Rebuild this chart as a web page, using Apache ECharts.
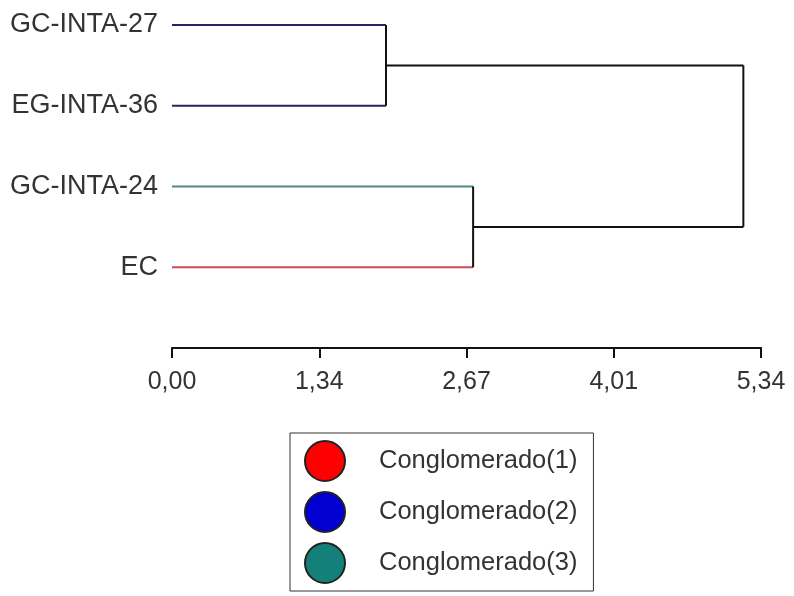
<!DOCTYPE html>
<html>
<head>
<meta charset="utf-8">
<script src="https://cdn.jsdelivr.net/npm/echarts@6/dist/echarts.min.js"></script>
<style>
  html, body { margin: 0; padding: 0; background: #fff; }
  #chart { width: 794px; height: 596px; }
</style>
</head>
<body>
<div id="chart"></div>
<script>
// hojas del dendrograma (de arriba hacia abajo)
const leafNames = ['GC-INTA-27', 'EG-INTA-36', 'GC-INTA-24', 'EC']
const leafCluster = [2, 2, 3, 1]
// uniones: pares de nodos (0-3 hojas, 4.. nodos nuevos) y su distancia
const mergePairs = [[0, 1], [2, 3], [4, 5]]
const mergeHeights = [1.94, 2.73, 5.18]
// eje de distancias
const tickValues = [0, 1.335, 2.67, 4.005, 5.34]
const tickLabels = ['0,00', '1,34', '2,67', '4,01', '5,34']
// conglomerados
const clusterNames = ['Conglomerado(1)', 'Conglomerado(2)', 'Conglomerado(3)']
const clusterColors = ['#ff0000', '#0000d0', '#14807a']
const branchColors = { 1: '#cc4a58', 2: '#26265e', 3: '#4f8a8a' }

const font = 'Liberation Sans, Arial, sans-serif'

// posiciones de los nodos
const nodes = leafNames.map((n, i) => ({ x: 0, y: i, leaf: i }))
const segments = []
mergePairs.forEach((pair, k) => {
  const h = mergeHeights[k]
  const a = nodes[pair[0]]
  const b = nodes[pair[1]]
  ;[a, b].forEach(c => {
    const color = c.leaf !== undefined ? branchColors[leafCluster[c.leaf]] : '#111'
    segments.push({ pts: [[c.x, c.y], [h, c.y]], color })
  })
  segments.push({ pts: [[h, a.y], [h, b.y]], color: '#111' })
  nodes.push({ x: h, y: (a.y + b.y) / 2 })
})

const series = segments.map(s => ({
  type: 'line',
  data: s.pts,
  showSymbol: false,
  silent: true,
  lineStyle: { color: s.color, width: 2 },
  z: s.color === '#111' ? 3 : 2
}))

clusterNames.forEach((name, i) => {
  series.push({
    name,
    type: 'scatter',
    data: [],
    itemStyle: { color: clusterColors[i], opacity: 1, borderColor: '#222', borderWidth: 1.5 }
  })
})

const chart = echarts.init(document.getElementById('chart'))
chart.setOption({
  animation: false,
  backgroundColor: '#fff',
  grid: { left: 172, right: 33, top: 25, bottom: 248 },
  xAxis: {
    type: 'value',
    position: 'bottom',
    min: 0,
    max: 5.34,
    interval: 1.335,
    splitLine: { show: false },
    axisLine: { show: true, onZero: false, lineStyle: { color: '#111', width: 2 } },
    axisTick: { show: true, length: 10, lineStyle: { color: '#111', width: 2 } },
    axisLabel: {
      margin: 22,
      color: '#333',
      fontSize: 25,
      fontFamily: font,
      formatter: (v) => {
        const i = tickValues.findIndex(t => Math.abs(t - v) < 1e-6)
        return i >= 0 ? tickLabels[i] : ''
      }
    }
  },
  yAxis: {
    type: 'value',
    inverse: true,
    min: 0,
    max: 4,
    interval: 1,
    splitLine: { show: false },
    axisLine: { show: false },
    axisTick: { show: false },
    axisLabel: {
      margin: 14,
      color: '#333',
      fontSize: 27,
      fontFamily: font,
      formatter: (v) => leafNames[v] || ''
    }
  },
  legend: {
    orient: 'vertical',
    left: 290,
    top: 433,
    padding: [7, 16, 7, 14],
    borderColor: '#333',
    borderWidth: 1,
    itemWidth: 40,
    itemHeight: 40,
    itemGap: 9,
    icon: 'circle',
    data: clusterNames,
    textStyle: {
      color: '#333',
      fontSize: 25.5,
      fontFamily: font,
      padding: [0, 0, 0, 29]
    }
  },
  series
})
</script>
</body>
</html>
